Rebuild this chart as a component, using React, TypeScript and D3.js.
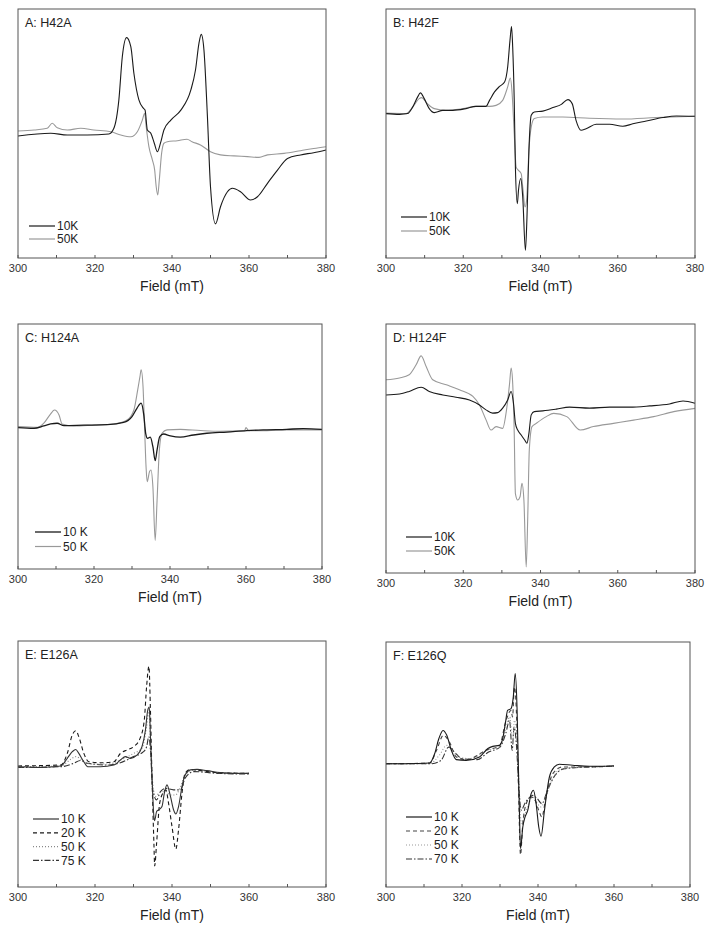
import React from 'react';
import * as d3 from 'd3';

// field (mT), intensity (arbitrary units, 0-100 of the frame)
const a10K = [[300,49.0],[308.5,50.1],[312.8,49.4],[318,49.4],[323.6,49.8],[324.9,52.1],[326.2,63.5],[327.1,80.9],[328.2,88.5],[329.3,84.9],[330.1,74.2],[331.4,63.5],[332.6,60.1],[333,59.4],[333.6,51.4],[334.5,50.1],[335.4,46.1],[336.2,42.7],[337,46.1],[337.9,51.4],[339.7,55.4],[342.3,59.4],[344.9,67.5],[346.1,75.5],[347,86.2],[347.6,89.8],[348.3,83.5],[349.2,56.8],[350,28.6],[351.3,13.7],[352.6,20.6],[354.4,26.6],[355.7,28.0],[357.8,26.6],[360.4,23.3],[362.2,24.6],[364.8,30.0],[367.4,35.3],[370,40.0],[373.4,41.4],[376.8,42.3],[380,43.4]];
const a50K = [[300,51.0],[304.2,51.4],[307.6,52.1],[308.9,54.1],[310.2,52.3],[312.8,51.4],[316.3,52.1],[319.7,51.4],[324.1,50.7],[326.7,49.4],[329.3,48.7],[331,50.7],[332.3,55.4],[332.9,58.1],[333.3,52.7],[334,44.7],[334.9,39.4],[335.5,35.3],[335.9,28.6],[336.3,25.3],[336.7,31.3],[337.3,42.0],[337.9,46.1],[338.8,46.7],[341.4,47.1],[343.9,47.7],[345.2,46.7],[347.4,45.4],[350,42.7],[352.6,41.4],[356.1,41.0],[359.6,40.7],[362.6,40.4],[364.8,41.4],[369.1,42.0],[373.4,43.1],[376.8,44.0],[380,44.7]];

const b10K = [[300,58.0],[303.5,57.7],[305.6,58.0],[306.9,60.6],[308.2,64.7],[308.9,66.3],[309.9,64.0],[311.2,60.0],[312.5,58.4],[314.7,59.3],[317.3,59.3],[320.7,60.0],[323.3,60.9],[325.9,60.9],[326.8,63.3],[328.1,66.7],[329.4,68.9],[330.7,70.7],[331.5,76.7],[332.1,87.4],[332.5,93.0],[332.8,84.7],[333.2,63.3],[333.5,36.5],[334,21.8],[334.3,27.2],[334.9,31.9],[335.4,24.5],[336.1,3.1],[336.5,16.5],[337,43.2],[337.6,57.3],[338.4,58.6],[340.6,59.0],[343.2,60.4],[345.4,61.7],[347.1,63.6],[348.2,62.0],[349.2,55.3],[350.5,51.3],[351.8,51.9],[354.4,53.7],[357.9,53.7],[361.3,52.9],[363.9,53.9],[367.4,55.0],[371.7,56.4],[375.2,57.0],[380,56.9]];
const b50K = [[300,58.2],[305.2,58.0],[306.9,60.6],[308.6,64.0],[309.2,64.4],[310.7,62.0],[312.5,60.0],[315.5,59.3],[319.9,60.0],[323.3,60.9],[326.8,60.9],[328.5,61.3],[330.2,63.3],[331.5,68.7],[332.2,72.3],[332.6,67.3],[333.2,49.9],[333.7,36.5],[334.3,35.2],[335,33.9],[335.4,28.5],[336,20.5],[336.4,23.2],[337,43.2],[337.6,52.6],[338.4,56.0],[340.6,56.6],[345.8,56.6],[352.7,56.1],[361.3,55.8],[369.9,56.4],[380,56.9]];

const c10K = [[300,57.7],[304.2,57.4],[306.8,58.4],[308.6,59.2],[310.3,59.5],[312.1,58.5],[317.3,58.7],[323.5,58.9],[327.8,59.8],[330,62.2],[331.3,65.6],[332.4,67.7],[333.1,62.9],[333.6,55.4],[334.1,53.3],[334.8,53.8],[335.5,49.9],[336.1,44.2],[336.6,48.6],[337.3,54.0],[338.3,55.1],[340.1,54.3],[342.7,53.8],[346.2,54.7],[349.7,55.4],[355,55.9],[360.2,56.5],[365.5,56.8],[370.7,57.0],[375.1,57.3],[380,57.0]];
const c50K = [[300,58.1],[305.1,57.8],[306.8,59.5],[308.4,62.9],[309.6,64.9],[310.8,62.9],[311.6,59.2],[314.7,58.4],[320,58.8],[325.2,59.2],[328.7,60.8],[330.5,64.9],[331.5,73.1],[332.1,78.6],[332.4,81.3],[332.9,74.5],[333.3,58.1],[333.7,41.7],[334,35.6],[334.6,39.7],[335,40.4],[335.5,33.6],[336.1,11.7],[336.6,28.1],[337.2,48.6],[337.9,55.4],[339.2,56.8],[342.7,57.0],[348,56.5],[353.2,56.2],[356.7,56.3],[359.6,56.4],[360,57.7],[360.7,56.5],[365.5,56.5],[370.7,56.8],[376,56.8],[380,56.8]];

const d10K = [[300,71.5],[303.5,71.9],[306,72.9],[309.1,74.6],[311.2,72.9],[314.7,71.5],[318.1,70.6],[321.6,69.5],[324.2,67.5],[325.9,65.5],[327.6,64.2],[328.9,64.4],[330.2,66.2],[331.5,69.5],[332.4,72.9],[333,68.2],[333.5,60.1],[334.1,57.4],[335,55.4],[335.9,53.4],[336.5,52.1],[337,56.1],[337.6,63.5],[338.4,64.8],[340.6,65.1],[344.1,65.8],[347.5,66.6],[352.7,66.2],[357.9,66.6],[363.1,66.6],[368.3,67.1],[373.4,67.9],[376.9,69.1],[380,68.2]];
const d50K = [[300,77.6],[303.5,78.3],[306,79.6],[307.8,83.6],[309.1,87.2],[310.4,82.9],[312.1,77.6],[315.6,75.6],[319,73.6],[322.5,70.9],[324.2,67.5],[325.9,61.5],[327.2,57.4],[328.5,58.8],[330.2,58.1],[331.2,65.5],[332,76.2],[332.4,82.3],[332.8,76.2],[333.2,56.1],[333.5,31.9],[334.1,29.3],[334.7,30.6],[335.2,36.0],[335.7,29.3],[336.3,2.4],[336.7,22.6],[337.1,49.4],[337.8,58.8],[338.9,60.1],[341.5,62.8],[343.4,64.1],[346.8,62.8],[350.3,57.4],[353.7,58.8],[358.9,60.1],[364.1,61.4],[369.3,62.8],[374.5,64.8],[380,66.1]];

const e10K = [[300,48.9],[305.9,48.6],[311.1,49.2],[312.8,52.3],[314.1,55.0],[315,55.9],[315.8,54.3],[317.1,50.9],[318.1,48.9],[321.4,48.9],[324.9,49.6],[326.6,51.6],[327.9,53.0],[329.2,52.3],[330.9,53.6],[332.2,57.0],[333.1,63.8],[333.7,71.9],[334.1,73.2],[334.4,61.1],[334.8,44.9],[335.3,28.6],[335.5,27.0],[336,30.7],[336.6,31.4],[337.4,32.7],[338,38.1],[338.7,41.5],[339.6,36.8],[340.4,31.4],[341,29.7],[341.7,32.7],[342.6,40.8],[343.4,45.5],[344.8,47.6],[346.5,47.8],[349.1,47.3],[352.5,46.5],[356,46.2],[360,46.2]];
const e20K = [[300,49.2],[311.1,49.6],[312.8,54.3],[314.1,61.8],[315,63.5],[315.8,61.1],[317.1,54.3],[318.4,50.9],[321.4,50.5],[324.9,50.9],[326.6,54.3],[328.3,55.7],[330,57.0],[331.7,60.4],[332.8,67.8],[333.4,81.4],[334,89.7],[334.4,71.9],[334.8,44.9],[335.3,17.8],[335.5,8.6],[336,17.8],[336.8,34.1],[337.9,38.8],[338.4,39.5],[339.1,34.1],[340,24.6],[341,15.4],[341.7,23.2],[342.6,38.1],[343.4,46.2],[344.8,47.8],[347.4,47.3],[351.7,46.5],[360,46.2]];
const e50K = [[300,48.9],[311.1,49.2],[313.7,51.9],[315,53.0],[316.7,51.6],[318.8,50.0],[323.2,50.0],[326.6,51.6],[330,54.3],[332.2,56.4],[333.4,65.1],[334,71.9],[334.4,58.4],[335,42.2],[335.7,36.8],[336.8,38.4],[338.3,38.8],[339.6,37.4],[340.9,37.4],[342.2,40.8],[343.4,45.5],[345.7,47.6],[351.7,46.5],[360,46.2]];
const e75K = [[300,48.6],[311.1,48.9],[314.5,50.3],[316.2,51.4],[318,50.3],[323.2,49.6],[326.6,50.5],[330,53.0],[332.6,55.0],[333.4,57.0],[334,61.1],[334.4,55.7],[335,39.5],[336,35.4],[337,38.8],[338.3,40.1],[340.4,39.5],[342.2,39.5],[343.4,44.2],[345.7,46.9],[351.7,46.2],[360,45.9]];

const f10K = [[300,50.3],[305.3,50.3],[311.5,50.6],[312.8,54.4],[313.9,60.5],[315,63.9],[316,61.9],[317.2,55.8],[318.5,52.0],[321.1,51.7],[324.6,53.1],[326.8,56.5],[328.1,57.4],[329.8,57.8],[330.7,60.5],[331.4,66.7],[332,72.1],[332.9,72.8],[333.5,77.6],[334,87.1],[334.5,72.1],[334.8,51.7],[335.1,31.3],[335.4,15.6],[336,24.5],[336.6,28.6],[337.3,31.3],[338.2,38.1],[338.8,39.5],[339.5,34.0],[340.2,24.5],[340.8,20.7],[341.7,31.3],[343,44.9],[344.3,49.0],[345.6,50.1],[349.1,49.7],[353.5,49.3],[357,49.3],[360,49.5]];
const f20K = [[300,50.3],[311.5,50.6],[313.3,55.8],[315.1,61.9],[316.7,59.2],[318.5,53.1],[321.1,52.0],[326.8,56.1],[329.8,57.4],[331.6,68.0],[332.9,72.1],[333.3,69.4],[333.8,81.6],[334.3,72.1],[334.8,44.9],[335.4,13.2],[336,25.9],[336.9,34.0],[338.2,36.7],[339,36.1],[340.2,31.3],[341,28.6],[342.1,36.7],[343.9,46.3],[346.5,49.0],[353.5,49.0],[360,49.3]];
const f50K = [[300,50.3],[311.5,50.3],[314,53.7],[316,57.8],[317.5,55.8],[319,53.1],[322,52.4],[326.8,55.8],[329.8,57.1],[331.4,63.9],[332.6,69.4],[333.3,58.5],[333.8,68.0],[334.4,62.6],[335,42.2],[335.6,25.9],[336.3,28.6],[337.3,32.7],[338.5,36.7],[339.5,34.7],[340.8,32.7],[342,36.7],[344,44.9],[346.5,48.3],[353.5,49.0],[360,49.3]];
const f70K = [[300,50.3],[312,50.3],[314.5,51.7],[316.5,57.1],[318,55.1],[320,52.4],[324,52.0],[327,55.1],[330,57.1],[331.5,62.6],[332.5,68.0],[333.2,55.8],[333.7,65.3],[334.3,58.5],[335,39.5],[335.6,31.3],[336.5,34.0],[337.5,36.1],[338.6,37.4],[339.8,36.1],[341,34.0],[342.5,39.5],[344.5,45.6],[347,48.3],[353.5,49.0],[360,49.3]];

const fieldTicks = [300, 320, 340, 360, 380];
const minorTicks = [310, 330, 350, 370];

type Series = { label: string; data: number[][]; color: string; dash?: string; width?: number };
type PanelDef = {
  title: string; x0: number; x1: number; y0: number; y1: number;
  legendX: number; legendY: number; legendStep: number; series: Series[];
};

const DARK = '#1a1a1a';
const GREY = '#999';

const panels: PanelDef[] = [
  { title: 'A: H42A', x0: 18, x1: 326, y0: 9, y1: 258, legendX: 29, legendY: 226, legendStep: 13,
    series: [{ label: '10K', data: a10K, color: DARK }, { label: '50K', data: a50K, color: GREY }] },
  { title: 'B: H42F', x0: 386, x1: 695, y0: 9, y1: 258, legendX: 401, legendY: 217, legendStep: 14,
    series: [{ label: '10K', data: b10K, color: DARK }, { label: '50K', data: b50K, color: GREY }] },
  { title: 'C: H124A', x0: 18, x1: 322, y0: 324, y1: 569, legendX: 35, legendY: 532, legendStep: 14.5,
    series: [{ label: '10 K', data: c10K, color: DARK, width: 1.3 }, { label: '50 K', data: c50K, color: GREY }] },
  { title: 'D: H124F', x0: 386, x1: 695, y0: 324, y1: 573, legendX: 406, legendY: 537, legendStep: 14,
    series: [{ label: '10K', data: d10K, color: DARK }, { label: '50K', data: d50K, color: GREY }] },
  { title: 'E: E126A', x0: 18, x1: 326, y0: 641, y1: 887, legendX: 33, legendY: 819, legendStep: 13.8,
    series: [
      { label: '10 K', data: e10K, color: '#333' },
      { label: '20 K', data: e20K, color: DARK, dash: '4,3' },
      { label: '50 K', data: e50K, color: '#888', dash: '1,2' },
      { label: '75 K', data: e75K, color: '#333', dash: '6,2,1.5,2' }] },
  { title: 'F: E126Q', x0: 386, x1: 690, y0: 642, y1: 887, legendX: 406, legendY: 817, legendStep: 14,
    series: [
      { label: '10 K', data: f10K, color: DARK },
      { label: '20 K', data: f20K, color: '#444', dash: '4,3' },
      { label: '50 K', data: f50K, color: '#999', dash: '1,2' },
      { label: '70 K', data: f70K, color: '#333', dash: '6,2,1.5,2' }] },
];

const FONT = '"Liberation Sans", Arial, sans-serif';

function Panel({ p }: { p: PanelDef }) {
  const x = d3.scaleLinear().domain([300, 380]).range([p.x0, p.x1]);
  const y = d3.scaleLinear().domain([0, 100]).range([p.y1, p.y0]);
  const path = d3.line<number[]>().x(d => x(d[0])).y(d => y(d[1])).curve(d3.curveMonotoneX);
  return (
    <g>
      {p.series.slice().reverse().map(s => (
        <path key={s.label} d={path(s.data) || ''} fill="none" stroke={s.color}
          strokeWidth={s.width || 1.1} strokeDasharray={s.dash} strokeLinejoin="round" />
      ))}
      <rect x={p.x0} y={p.y0} width={p.x1 - p.x0} height={p.y1 - p.y0} fill="none" stroke="#555" strokeWidth={1} />
      {fieldTicks.concat(minorTicks).map(t => (
        <line key={t} x1={x(t)} x2={x(t)} y1={p.y1} y2={p.y1 - 3} stroke="#555" />
      ))}
      {fieldTicks.map(t => (
        <text key={t} x={x(t)} y={p.y1 + 14} textAnchor="middle" fontSize={11} fill="#333" fontFamily={FONT}>{t}</text>
      ))}
      <text x={(p.x0 + p.x1) / 2} y={p.y1 + 33} textAnchor="middle" fontSize={14} fill="#222" fontFamily={FONT}>Field (mT)</text>
      <text x={p.x0 + 7} y={p.y0 + 18} fontSize={12.5} fill="#222" fontFamily={FONT}>{p.title}</text>
      {p.series.map((s, i) => (
        <g key={s.label}>
          <line x1={p.legendX} x2={p.legendX + 26} y1={p.legendY + i * p.legendStep} y2={p.legendY + i * p.legendStep}
            stroke={s.color} strokeWidth={s.width || 1.2} strokeDasharray={s.dash} />
          <text x={p.legendX + 28} y={p.legendY + i * p.legendStep + 4.2} fontSize={12} fill="#222" fontFamily={FONT}>{s.label}</text>
        </g>
      ))}
    </g>
  );
}

export default function App() {
  return (
    <svg width={713} height={934} style={{ position: 'absolute', left: 0, top: 0, background: '#fff' }}>
      <rect width={713} height={934} fill="#fff" />
      {panels.map(p => <Panel key={p.title} p={p} />)}
    </svg>
  );
}
